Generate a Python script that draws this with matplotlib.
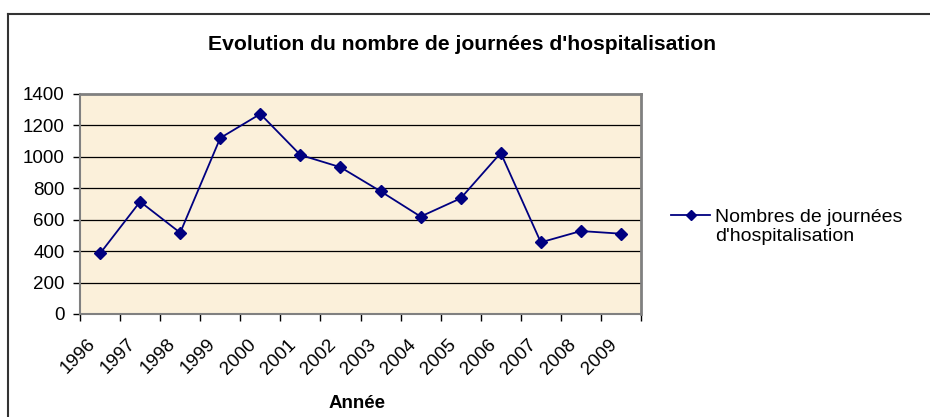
import matplotlib
matplotlib.use("Agg")
import matplotlib.pyplot as plt
from matplotlib.lines import Line2D
from matplotlib.transforms import ScaledTranslation

years = ["1996", "1997", "1998", "1999", "2000", "2001", "2002",
         "2003", "2004", "2005", "2006", "2007", "2008", "2009"]
journees = [385, 715, 517, 1120, 1273, 1012, 934, 781, 620, 736, 1025, 456, 528, 511]
yticks = [0, 200, 400, 600, 800, 1000, 1200, 1400]

title = "Evolution du nombre de journées d'hospitalisation"
xlabel = "Année"
series_name = "Nombres de journées\nd'hospitalisation"

plt.rcParams['font.family'] = ['Liberation Sans', 'DejaVu Sans']

W, H = 930, 417
fig = plt.figure(figsize=(W / 100, H / 100), dpi=100)
fig.patch.set_facecolor("white")

ax = fig.add_axes([80 / W, 1 - 314 / H, (641 - 80) / W, (314 - 94) / H])
ax.set_facecolor("#FBF0DA")

n = len(years)
xs = [i + 0.5 for i in range(n)]
ax.plot(xs, journees, color="#000080", lw=1.3, marker="D", ms=6.5,
        mfc="#000080", mec="#000080", zorder=3)

ax.set_xlim(0, n)
ax.set_ylim(0, 1400)
ax.set_yticks(yticks)
ax.set_yticklabels([str(v) for v in yticks], fontsize=13.5)
for v in yticks[1:-1]:
    ax.axhline(v, color="black", lw=0.9, zorder=1)

ax.set_xticks(xs)
ax.set_xticklabels(years, rotation=45, ha="right", va="center",
                   rotation_mode="anchor", fontsize=13.5)
ax.set_xticks(list(range(n + 1)), minor=True)
ax.tick_params(axis="x", which="major", length=0, pad=20)
ax.tick_params(axis="x", which="minor", length=5, width=1, color="black")
ax.tick_params(axis="y", length=5, width=1, color="black", pad=6)
off = ScaledTranslation(-0.07, 0, fig.dpi_scale_trans)
for lab in ax.get_xticklabels():
    lab.set_transform(lab.get_transform() + off)

for side in ["top", "right"]:
    ax.spines[side].set_color("#808080")
    ax.spines[side].set_linewidth(2)
for side in ["left", "bottom"]:
    ax.spines[side].set_color("#808080")
    ax.spines[side].set_linewidth(1.5)

fig.text(357 / W, 1 - 403 / H, xlabel, ha="center", va="center",
         fontsize=13.5, fontweight="bold")
fig.text(462 / W, 1 - 44 / H, title, ha="center", va="center",
         fontsize=15.2, fontweight="bold")

# legend
ly = 1 - 215 / H
fig.add_artist(Line2D([671 / W, 710 / W], [ly, ly], color="#000080", lw=1.3,
                      transform=fig.transFigure))
fig.add_artist(Line2D([690.5 / W], [ly], color="#000080", marker="D", ms=5.5,
                      transform=fig.transFigure))
fig.text(715 / W, 1 - 227 / H, series_name, ha="left", va="center",
         fontsize=14, linespacing=1.15)

# outer chart-area border (left and top)
fig.add_artist(Line2D([8 / W, 8 / W], [0, 1 - 14 / H], color="#333333", lw=1.5,
                      transform=fig.transFigure))
fig.add_artist(Line2D([8 / W, 1], [1 - 14 / H, 1 - 14 / H], color="#333333", lw=1.5,
                      transform=fig.transFigure))

fig.savefig("out.png", dpi=100)
